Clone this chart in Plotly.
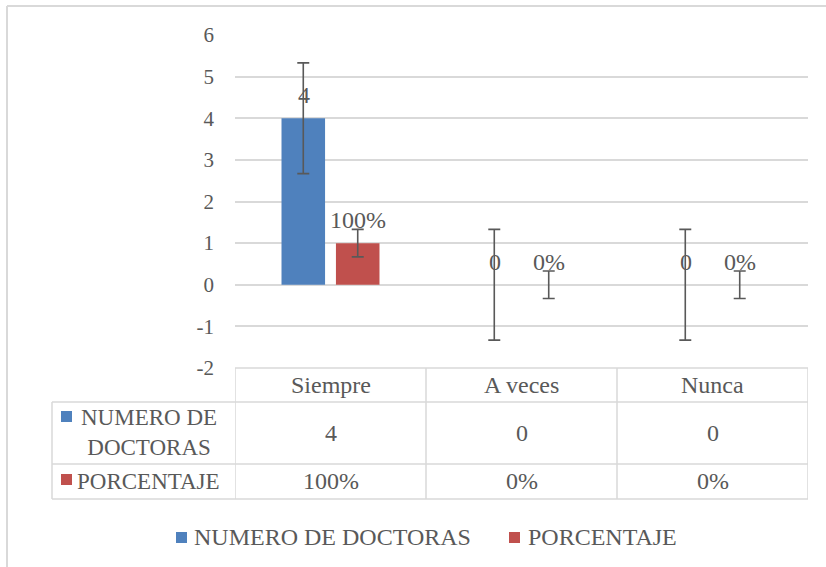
import plotly.graph_objects as go

# data
categorias = ["Siempre", "A veces", "Nunca"]
numero_doctoras = [4, 0, 0]
porcentaje = [1, 0, 0]
porcentaje_txt = ["100%", "0%", "0%"]
err_doctoras = [1.33, 1.33, 1.33]
err_porcentaje = [0.33, 0.33, 0.33]
y_ticks = [-2, -1, 0, 1, 2, 3, 4, 5, 6]

AZUL = "#4F81BD"
ROJO = "#C0504D"
GRIS_TXT = "#595959"
GRIS_LINEA = "#D9D9D9"
FUENTE = "Liberation Serif"

W, H = 826, 567
L, R, T, B = 235, 808, 35, 368


def px_x(x):
    return (x - L) / (R - L)


def px_y(y):
    return (B - y) / (B - T)


fig = go.Figure()
fig.add_trace(go.Bar(
    x=categorias, y=numero_doctoras, name="NUMERO DE DOCTORAS",
    marker=dict(color=AZUL, line=dict(width=0)),
    error_y=dict(type="data", array=err_doctoras, color=GRIS_TXT, thickness=1.6, width=6),
))
fig.add_trace(go.Bar(
    x=categorias, y=porcentaje, name="PORCENTAJE",
    marker=dict(color=ROJO, line=dict(width=0)),
    error_y=dict(type="data", array=err_porcentaje, color=GRIS_TXT, thickness=1.6, width=6),
))

font = dict(family=FUENTE, size=24, color=GRIS_TXT)
font_fila = dict(family=FUENTE, size=23, color=GRIS_TXT)
anns = []
shapes = []


def texto(x, y, t, xref="paper", xanchor="center", f=font, **kw):
    anns.append(dict(x=x, y=y, xref=xref, yref="paper", text=t, showarrow=False,
                     xanchor=xanchor, yanchor="middle", font=f, **kw))


# data labels above bars
for i, c in enumerate(categorias):
    anns.append(dict(x=c, y=numero_doctoras[i], xref="x", yref="y", text=str(numero_doctoras[i]),
                     showarrow=False, xanchor="center", yanchor="middle",
                     xshift=-27, yshift=23, font=font))
    anns.append(dict(x=c, y=porcentaje[i], xref="x", yref="y", text=porcentaje_txt[i],
                     showarrow=False, xanchor="center", yanchor="middle",
                     xshift=27, yshift=23, font=font))

# data table under the chart
line = dict(color=GRIS_LINEA, width=1.5)
for yy, x0 in [(368, 235), (402, 52), (464, 52), (499, 52)]:
    shapes.append(dict(type="line", xref="paper", yref="paper", x0=px_x(x0), x1=px_x(808),
                       y0=px_y(yy), y1=px_y(yy), line=line))
shapes.append(dict(type="line", xref="paper", yref="paper", x0=px_x(52), x1=px_x(52),
                   y0=px_y(402), y1=px_y(499), line=line))
for xv in [-0.5, 0.5, 1.5, 2.5]:
    shapes.append(dict(type="line", xref="x", yref="paper", x0=xv, x1=xv,
                       y0=px_y(368), y1=px_y(499), line=line))

for i, c in enumerate(categorias):
    texto(c, px_y(385), c, xref="x")
    texto(c, px_y(433), str(numero_doctoras[i]), xref="x")
    texto(c, px_y(481), porcentaje_txt[i], xref="x")

# row headers
shapes.append(dict(type="rect", xref="paper", yref="paper", x0=px_x(61), x1=px_x(72),
                   y0=px_y(411), y1=px_y(422), fillcolor=AZUL, line=dict(width=0)))
texto(px_x(149), px_y(432), "NUMERO DE<br>DOCTORAS", f=font_fila, align="center")
shapes.append(dict(type="rect", xref="paper", yref="paper", x0=px_x(61), x1=px_x(72),
                   y0=px_y(474), y1=px_y(485), fillcolor=ROJO, line=dict(width=0)))
texto(px_x(75), px_y(481), "PORCENTAJE", f=font_fila, xanchor="left")

# legend
shapes.append(dict(type="rect", xref="paper", yref="paper", x0=px_x(176), x1=px_x(187),
                   y0=px_y(532), y1=px_y(543), fillcolor=AZUL, line=dict(width=0)))
texto(px_x(192), px_y(537), "NUMERO DE DOCTORAS", xanchor="left")
shapes.append(dict(type="rect", xref="paper", yref="paper", x0=px_x(509), x1=px_x(520),
                   y0=px_y(532), y1=px_y(543), fillcolor=ROJO, line=dict(width=0)))
texto(px_x(526), px_y(537), "PORCENTAJE", xanchor="left")

# chart area border (left and top edges visible)
frame = dict(color=GRIS_LINEA, width=2)
shapes.append(dict(type="line", xref="paper", yref="paper", x0=px_x(7), x1=px_x(7),
                   y0=px_y(6), y1=px_y(600), line=frame))
shapes.append(dict(type="line", xref="paper", yref="paper", x0=px_x(7), x1=px_x(900),
                   y0=px_y(6), y1=px_y(6), line=frame))

fig.update_layout(
    width=W, height=H,
    margin=dict(l=L, r=W - R, t=T, b=H - B),
    paper_bgcolor="white", plot_bgcolor="white",
    barmode="group", bargap=0.43, bargroupgap=0.2,
    showlegend=False,
    font=dict(family=FUENTE, color=GRIS_TXT),
    xaxis=dict(showticklabels=False, showgrid=False, zeroline=False, showline=False,
               range=[-0.5, 2.5]),
    yaxis=dict(range=[-2, 6], tickvals=y_ticks, ticktext=[str(v) for v in y_ticks],
               showgrid=True, gridcolor=GRIS_LINEA, gridwidth=1.5, zeroline=False,
               showline=False, ticks="", ticklabelstandoff=20,
               tickfont=dict(family=FUENTE, size=21, color=GRIS_TXT)),
    annotations=anns,
    shapes=shapes,
)

fig.write_html("out.html", config={"displayModeBar": False},
               post_script="document.body.style.margin='0';")
